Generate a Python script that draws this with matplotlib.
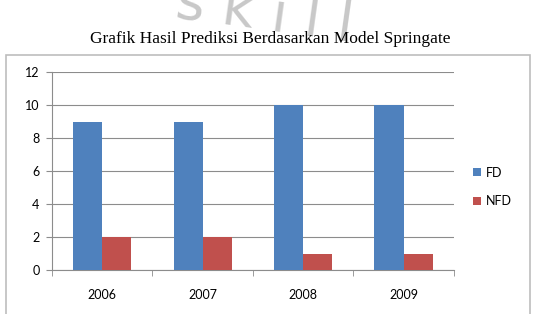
import numpy as np
import matplotlib.pyplot as plt
from matplotlib.patches import Rectangle

years = ['2006', '2007', '2008', '2009']
fd = [9, 9, 10, 10]
nfd = [2, 2, 1, 1]

blue = '#4F81BD'
red = '#C0504D'
grid_col = '#8c8c8c'

fig = plt.figure(figsize=(5.4, 3.14), dpi=100)

# watermark
fig.text(0.49, 0.955, 's k i l l', ha='center', va='center', fontsize=40,
         color='#c8c8c8', family='DejaVu Sans', rotation=-8, zorder=0)

fig.text(0.5, 0.877, 'Grafik Hasil Prediksi Berdasarkan Model Springate',
         ha='center', va='center', fontsize=12.5, family='Liberation Serif')

# outer chart border
fig.patches.append(Rectangle((0.011, -0.02), 0.970, 0.845, transform=fig.transFigure,
                             fill=False, edgecolor='#bdbdbd', linewidth=1.2))

ax = fig.add_axes([0.0963, 0.140, 0.744, 0.6306])
x = np.arange(len(years))
w = 0.29
ax.bar(x - w / 2, fd, w, color=blue, label='FD', zorder=3)
ax.bar(x + w / 2, nfd, w, color=red, label='NFD', zorder=3)

ax.set_xlim(-0.5, len(years) - 0.5)
ax.set_ylim(0, 12)
ax.set_yticks(range(0, 13, 2))
ax.yaxis.grid(True, color=grid_col, linewidth=0.8, zorder=0)
ax.set_axisbelow(True)

ax.set_xticks(x)
ax.set_xticklabels(years)
ax.set_xticks(np.arange(-0.5, len(years)), minor=True)
ax.tick_params(axis='x', which='major', length=0, pad=14)
ax.tick_params(axis='x', which='minor', length=4, color=grid_col, direction='out')
ax.tick_params(axis='y', length=4, color=grid_col, pad=5)
for lab in ax.get_xticklabels() + ax.get_yticklabels():
    lab.set_family('Lato')
    lab.set_fontsize(9)

for s in ['top', 'right']:
    ax.spines[s].set_visible(False)
for s in ['left', 'bottom']:
    ax.spines[s].set_color(grid_col)
    ax.spines[s].set_linewidth(0.8)

leg = ax.legend(loc='center left', bbox_to_anchor=(1.02, 0.42), frameon=False,
                handlelength=0.6, handleheight=0.6, handletextpad=0.4,
                labelspacing=1.3, prop={'family': 'Lato', 'size': 9})

fig.savefig('out.png', dpi=100)
